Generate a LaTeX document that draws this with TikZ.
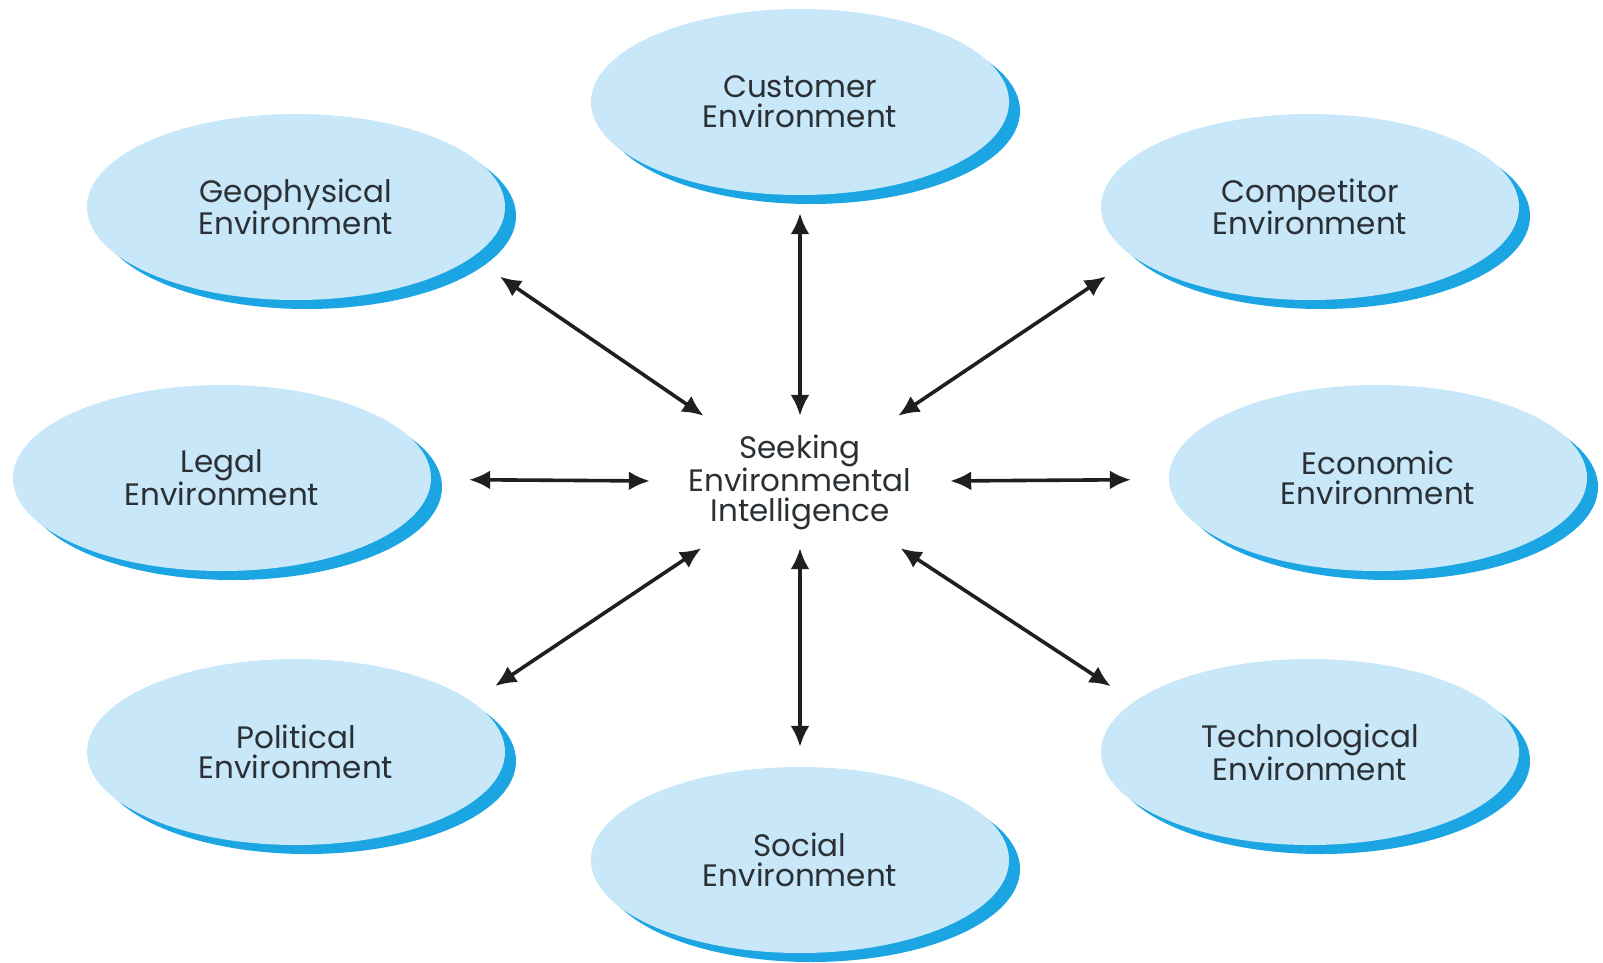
\documentclass[tikz,border=0pt]{standalone}
\usepackage{fontspec}
\setmainfont{Poppins}
\usetikzlibrary{shapes.geometric,shadows,arrows.meta}

\definecolor{envfill}{HTML}{C8E7F8}
\definecolor{envshade}{HTML}{1BA5E2}
\definecolor{envtext}{HTML}{2B3034}

\begin{document}
\begin{tikzpicture}[x=1pt,y=1pt]
  \tikzstyle{env} = [ellipse, fill=envfill, minimum width=418pt, minimum height=186pt,
    inner sep=0pt, text=envtext, align=center, font=\fontsize{31}{30}\selectfont,
    drop shadow={shadow xshift=11pt, shadow yshift=-9pt, fill=envshade, opacity=1}]
  \tikzstyle{hub} = [rectangle, minimum width=300pt, minimum height=132pt, inner sep=0pt,
    text=envtext, align=center, font=\fontsize{31}{30}\selectfont]
  \tikzstyle{both} = [{Latex[length=21pt,width=19pt]}-{Latex[length=21pt,width=19pt]},
    line width=3.6pt, draw=black!88]

  \useasboundingbox (0,0) rectangle (1603,-962);

  \node[hub] (seek) at (800,-482) {Seeking\\Environmental\\Intelligence};

  \node[env] (cust) at (800,-102) {Customer\\Environment};
  \node[env] (geo) at (296,-207) {Geophysical\\Environment};
  \node[env] (comp) at (1310,-207) {Competitor\\Environment};
  \node[env] (legal) at (222,-478) {Legal\\Environment};
  \node[env] (econ) at (1378,-478) {Economic\\Environment};
  \node[env] (pol) at (296,-752) {Political\\Environment};
  \node[env] (tech) at (1310,-752) {Technological\\Environment};
  \node[env] (soc) at (800,-860) {Social\\Environment};

  \draw[both, shorten >=18pt] (seek) -- (cust);
  \draw[both, shorten >=34pt] (seek) -- (geo.-16);
  \draw[both, shorten >=34pt] (seek) -- (comp.196);
  \draw[both, shorten >=38pt] (seek) -- (legal);
  \draw[both, shorten >=38pt] (seek) -- (econ);
  \draw[both, shorten >=28pt] (seek) -- (pol.16);
  \draw[both, shorten >=28pt] (seek) -- (tech.164);
  \draw[both, shorten >=20pt] (seek) -- (soc);

\end{tikzpicture}
\end{document}
